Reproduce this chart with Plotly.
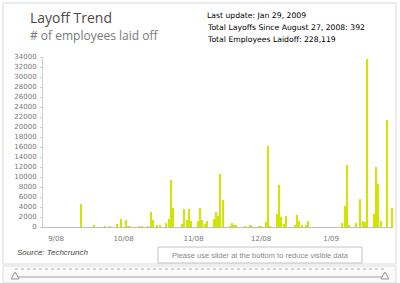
import plotly.graph_objects as go

# ---- data ----
dates = [
    "2008-08-26", "2008-09-12", "2008-09-18", "2008-09-23", "2008-09-25", "2008-09-28", "2008-09-30",
    "2008-10-02", "2008-10-03", "2008-10-04", "2008-10-08", "2008-10-09", "2008-10-12", "2008-10-13",
    "2008-10-14", "2008-10-16", "2008-10-17", "2008-10-20", "2008-10-21", "2008-10-22", "2008-10-23",
    "2008-10-27", "2008-10-28", "2008-10-29", "2008-10-30", "2008-10-31",
    "2008-11-03", "2008-11-04", "2008-11-05", "2008-11-06", "2008-11-07", "2008-11-10", "2008-11-11",
    "2008-11-12", "2008-11-13", "2008-11-14", "2008-11-17", "2008-11-18", "2008-11-19", "2008-11-20",
    "2008-11-24", "2008-11-26", "2008-11-27", "2008-11-30",
    "2008-12-01", "2008-12-03", "2008-12-04", "2008-12-05", "2008-12-08", "2008-12-09", "2008-12-10",
    "2008-12-11", "2008-12-12", "2008-12-16", "2008-12-17", "2008-12-18", "2008-12-19", "2008-12-21",
    "2008-12-22",
    "2009-01-06", "2009-01-07", "2009-01-08", "2009-01-09", "2009-01-12", "2009-01-14", "2009-01-15",
    "2009-01-16", "2009-01-17", "2009-01-20", "2009-01-21", "2009-01-22", "2009-01-23", "2009-01-26",
    "2009-01-28",
]
laid_off = [
    300, 4600, 500, 150, 150, 600, 1600,
    1500, 120, 100, 80, 80, 200, 3000,
    1400, 300, 300, 800, 1600, 9400, 3800,
    600, 3700, 1400, 3700, 1300,
    1300, 3850, 1500, 600, 1250, 1700, 3000,
    2250, 10650, 5400, 200, 900, 250, 500,
    200, 500, 150, 150,
    150, 1000, 16250, 100, 2550, 8500, 2050,
    650, 2200, 380, 2450, 1300, 400, 400,
    1300,
    850, 4250, 12400, 500, 900, 5600, 1200,
    1100, 33700, 2600, 12000, 8600, 1300, 21450,
    3900,
]
month_ticks = ["2008-09-01", "2008-10-01", "2008-11-01", "2008-12-01", "2009-01-01"]
month_labels = ["9/08", "10/08", "11/08", "12/08", "1/09"]
y_ticks = list(range(0, 34001, 2000))
y_labels = [str(v) for v in y_ticks]

# ---- geometry helpers (pixel -> paper) ----
L, R, T, B = 43, 393, 57, 227
W, H = 400, 283
def px(x):
    return (x - L) / (R - L)
def py(y):
    return (B - y) / (B - T)

fig = go.Figure(go.Bar(
    x=dates, y=laid_off,
    marker=dict(color="#d2e500", line=dict(width=0)),
    width=0.55 * 86400000,
))

shapes = []
shapes.append(dict(type="rect", xref="paper", yref="paper",
                   x0=px(3), x1=px(396), y0=py(264), y1=py(3),
                   line=dict(color="#d9d9d9", width=1), layer="below"))
shapes.append(dict(type="rect", xref="paper", yref="paper",
                   x0=px(158), x1=px(362), y0=py(263), y1=py(247),
                   line=dict(color="#c4c4c4", width=1), fillcolor="white"))
shapes.append(dict(type="rect", xref="paper", yref="paper",
                   x0=px(3), x1=px(396), y0=py(283), y1=py(266),
                   line=dict(color="#dddddd", width=1), fillcolor="#fafafa", layer="below"))
shapes.append(dict(type="line", xref="paper", yref="paper",
                   x0=px(15), x1=px(385), y0=py(269), y1=py(269),
                   line=dict(color="#b0b0b0", width=1, dash="dot")))
shapes.append(dict(type="line", xref="paper", yref="paper",
                   x0=px(15), x1=px(385), y0=py(277), y1=py(277),
                   line=dict(color="#a0a0a0", width=1)))
for cx in (15, 385):
    shapes.append(dict(type="path", xref="paper", yref="paper",
                       path=f"M {px(cx-4)},{py(279)} L {px(cx+4)},{py(279)} L {px(cx)},{py(272)} Z",
                       line=dict(color="#999999", width=1), fillcolor="#f4f4f4"))

info_font = dict(family="DejaVu Sans", size=7.7, color="#000000")
annotations = [
    dict(text="Layoff Trend", x=px(28), y=py(18), xref="paper", yref="paper",
         xanchor="left", yanchor="middle", showarrow=False,
         font=dict(family="Open Sans", size=14, color="#4a4a4a")),
    dict(text="# of employees laid off", x=px(28), y=py(35), xref="paper", yref="paper",
         xanchor="left", yanchor="middle", showarrow=False,
         font=dict(family="Open Sans", size=12, color="#7a7a7a")),
    dict(text="Last update: Jan 29, 2009", x=px(205), y=py(16), xref="paper", yref="paper",
         xanchor="left", yanchor="middle", showarrow=False, font=info_font),
    dict(text="Total Layoffs Since August 27, 2008: 392", x=px(205), y=py(28), xref="paper", yref="paper",
         xanchor="left", yanchor="middle", showarrow=False, font=info_font),
    dict(text="Total Employees Laidoff: 228,119", x=px(205), y=py(40), xref="paper", yref="paper",
         xanchor="left", yanchor="middle", showarrow=False, font=info_font),
    dict(text="<i>Source: Techcrunch</i>", x=px(15), y=py(252), xref="paper", yref="paper",
         xanchor="left", yanchor="middle", showarrow=False,
         font=dict(family="Liberation Sans", size=8, color="#444444")),
    dict(text="Please use slider at the bottom to reduce visible data", x=px(260), y=py(255),
         xref="paper", yref="paper", xanchor="center", yanchor="middle", showarrow=False,
         font=dict(family="Liberation Sans", size=7.5, color="#8a8a8a")),
]

fig.update_layout(
    width=W, height=H,
    margin=dict(l=L, r=W - R, t=T, b=H - B, pad=0),
    paper_bgcolor="white", plot_bgcolor="white",
    showlegend=False, bargap=0,
    shapes=shapes, annotations=annotations,
    xaxis=dict(
        type="date", range=["2008-08-26 05:45", "2009-01-28 10:50"],
        tickmode="array", tickvals=month_ticks, ticktext=month_labels,
        showgrid=False, zeroline=False,
        showline=True, linecolor="#bdbdbd", linewidth=1,
        ticks="", ticklabelstandoff=5,
        tickfont=dict(family="DejaVu Sans", size=7, color="#777777"),
        fixedrange=True,
    ),
    yaxis=dict(
        range=[0, 34000], tickmode="array", tickvals=y_ticks, ticktext=y_labels,
        showgrid=False, zeroline=False,
        showline=True, linecolor="#cfcfcf", linewidth=1,
        ticks="outside", ticklen=2, tickcolor="#cfcfcf", ticklabelstandoff=2,
        tickfont=dict(family="DejaVu Sans", size=7, color="#777777"),
        fixedrange=True,
    ),
)

fig.write_html("out.html", config={"displayModeBar": False})
